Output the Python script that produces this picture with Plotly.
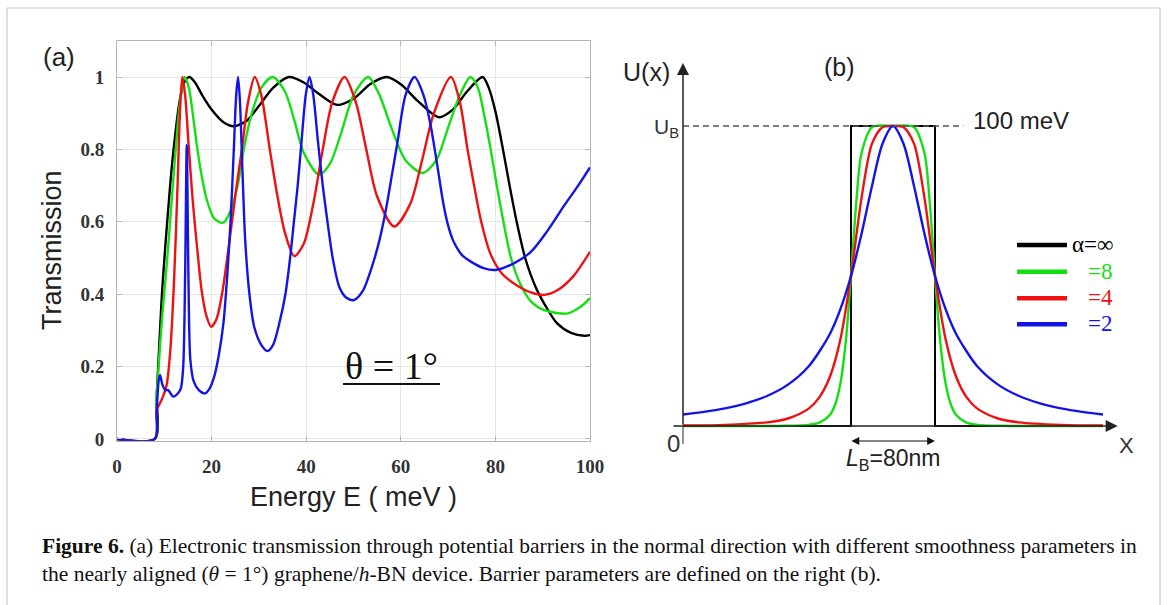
import plotly.graph_objects as go

W, H = 1167, 605
def X(p): return p / W
def Y(p): return 1 - p / H

# ---------------- Panel (a): Transmission vs Energy ----------------
E_inf = [0, 8.0, 8.4, 8.9, 9.5, 10.2, 10.8, 11.5, 12.3, 13.2, 14.2, 15.3, 16.5, 18, 20, 22.5, 24.8,
         27.5, 30, 33, 36.3, 39.5, 42.5, 46.5, 50, 53.5, 57.0, 60, 63.5, 68.0, 71, 74, 77.3, 78.6,
         80.0, 81.6, 83.0, 84.5, 86.3, 88.5, 90.5, 93, 96, 98.8, 100]
T_inf = [0, 0, 0.12, 0.25, 0.40, 0.53, 0.63, 0.74, 0.84, 0.93, 0.985, 1.0, 0.985, 0.95, 0.91, 0.875, 0.864,
         0.88, 0.92, 0.97, 1.0, 0.985, 0.955, 0.923, 0.94, 0.98, 1.0, 0.98, 0.935, 0.889, 0.91, 0.96, 1.0, 0.97,
         0.905, 0.80, 0.70, 0.60, 0.50, 0.42, 0.37, 0.32, 0.293, 0.285, 0.287]

E_8 = [0, 8.0, 8.3, 8.8, 9.5, 10.3, 11, 11.8, 12.6, 13.4, 14.3, 15.2, 16, 17, 18, 19, 20.5, 22.4, 24,
       25.5, 26.8, 28.5, 30.5, 32.9, 35.5, 37.5, 39.5, 42.7, 45, 47.5, 50, 53.1, 55.5, 58, 61, 64.6, 67.5,
       70, 72.5, 74.7, 76.3, 77.7, 79.0, 80.3, 81.7, 83.3, 85.2, 87.5, 90.5, 95.3, 98, 100]
T_8 = [0, 0, 0.10, 0.20, 0.33, 0.45, 0.56, 0.70, 0.83, 0.94, 1.0, 0.97, 0.90, 0.80, 0.72, 0.66, 0.61, 0.597, 0.63,
       0.70, 0.80, 0.90, 0.97, 1.0, 0.96, 0.88, 0.79, 0.73, 0.76, 0.85, 0.95, 1.0, 0.95, 0.86, 0.77, 0.735, 0.77,
       0.86, 0.95, 1.0, 0.97, 0.89, 0.80, 0.70, 0.60, 0.50, 0.43, 0.38, 0.355, 0.347, 0.365, 0.389]

E_4 = [0, 8.0, 8.4, 9.5, 10.5, 11.3, 12.1, 12.8, 13.3, 13.8, 14.4, 15.1, 16, 17, 17.9, 18.9, 19.9, 21,
       22.2, 23.3, 24.3, 25.3, 26.4, 27.7, 29.1, 30.5, 32.3, 33.8, 35.5, 37.5, 39.5, 41.5, 43.5, 45.5, 48.1,
       50.5, 52.7, 55, 58.6, 62, 64.5, 67, 70.6, 72.5, 74.1, 75.5, 77.0, 79.0, 81.5, 84.5, 87.5, 90.3, 93,
       96.5, 100]
T_4 = [0, 0, 0.08, 0.11, 0.15, 0.25, 0.45, 0.70, 0.90, 1.0, 0.95, 0.82, 0.66, 0.52, 0.41, 0.34, 0.31, 0.33,
       0.40, 0.50, 0.60, 0.70, 0.80, 0.93, 1.0, 0.95, 0.80, 0.68, 0.57, 0.505, 0.54, 0.65, 0.80, 0.93, 1.0,
       0.93, 0.80, 0.67, 0.587, 0.65, 0.77, 0.90, 1.0, 0.93, 0.80, 0.70, 0.60, 0.51, 0.455, 0.425, 0.405, 0.398,
       0.41, 0.45, 0.517]

E_2 = [0, 8.0, 8.4, 8.8, 9.1, 9.6, 10.2, 10.8, 11.9, 12.8, 13.5, 14.0, 14.4, 14.75, 15.1, 15.5, 16.2,
       17.3, 18.6, 19.6, 20.5, 21.5, 22.5, 23.3, 24, 24.7, 25.2, 25.6, 26.0, 26.5, 27.1, 28, 29, 30.5, 31.8,
       33, 34.5, 35.6, 36.6, 37.4, 38.2, 39, 39.9, 40.7, 41.5, 42.5, 43.5, 44.5, 45.6, 47, 48.5, 50.1, 52,
       54, 55.5, 56.8, 58, 59.3, 61, 62.9, 64.8, 66.3, 67.7, 69.0, 70.0, 71.0, 72.0, 73.0, 74.8, 77.5, 80.1,
       84, 87.5, 91, 94.6, 97.5, 100]
T_2 = [0, 0, 0.08, 0.16, 0.177, 0.15, 0.135, 0.135, 0.117, 0.125, 0.14, 0.20, 0.45, 0.812, 0.45, 0.22, 0.16,
       0.135, 0.126, 0.14, 0.17, 0.23, 0.32, 0.45, 0.60, 0.80, 0.95, 1.0, 0.93, 0.75, 0.55, 0.40, 0.31, 0.26, 0.243,
       0.26, 0.33, 0.40, 0.50, 0.60, 0.70, 0.82, 0.95, 1.0, 0.95, 0.82, 0.70, 0.60, 0.50, 0.42, 0.39, 0.384, 0.41,
       0.48, 0.55, 0.63, 0.72, 0.82, 0.95, 1.0, 0.95, 0.867, 0.757, 0.65, 0.59, 0.55, 0.525, 0.507, 0.49, 0.472,
       0.467, 0.486, 0.517, 0.575, 0.646, 0.70, 0.75]

x_ticks = [0, 20, 40, 60, 80, 100]
y_ticks = [0, 0.2, 0.4, 0.6, 0.8, 1]
y_ticktext = ["0", "0.2", "0.4", "0.6", "0.8", "1"]

# ---------------- Panel (b): barrier profiles U(x) ----------------
xb_inf = [0, 160, 160, 240, 240, 400]
Ub_inf = [0, 0, 100, 100, 0, 0]

xb_8 = [0, 100, 120, 130, 140, 145, 150, 155, 160, 165, 170, 180, 200,
        220, 230, 235, 240, 245, 250, 255, 260, 270, 280, 300, 400]
Ub_8 = [0, 0.07, 0.39, 1.12, 3.76, 7.26, 14.37, 28.04, 50, 74.42, 90.9, 99.61, 100,
        99.61, 90.9, 74.42, 50, 28.04, 14.37, 7.26, 3.76, 1.12, 0.39, 0.07, 0]

xb_4 = [0, 40, 80, 100, 120, 130, 140, 150, 160, 170, 180, 190, 200,
        210, 220, 230, 240, 250, 260, 270, 280, 300, 320, 360, 400]
Ub_4 = [0.16, 0.39, 1.22, 2.50, 5.88, 9.63, 16.49, 29.06, 50, 75.96, 94.12, 99.61, 100,
        99.61, 94.12, 75.96, 50, 29.06, 16.49, 9.63, 5.88, 2.50, 1.22, 0.39, 0.16]

xb_2 = [0, 20, 40, 60, 80, 100, 120, 140, 150, 160, 170, 180, 190, 200,
        210, 220, 230, 240, 250, 260, 280, 300, 320, 340, 360, 380, 400]
Ub_2 = [3.85, 4.71, 5.88, 7.55, 10.0, 13.79, 20.0, 30.77, 39.02, 50, 64.0, 80.0, 94.1, 100,
        94.1, 80.0, 64.0, 50, 39.02, 30.77, 20.0, 13.79, 10.0, 7.55, 5.88, 4.71, 3.85]

legend_labels = ["α=∞", "=8", "=4", "=2"]
colors = ["#000000", "#12e012", "#ee1111", "#1414e6"]

fig = go.Figure()

series_a = [(E_inf, T_inf), (E_8, T_8), (E_4, T_4), (E_2, T_2)]
for (xs, ys), c in zip(series_a, colors):
    fig.add_trace(go.Scatter(x=xs, y=ys, mode="lines", xaxis="x", yaxis="y",
                             line=dict(color=c, width=2.4, shape="spline", smoothing=0.8),
                             showlegend=False, hoverinfo="skip"))

series_b = [(xb_inf, Ub_inf), (xb_8, Ub_8), (xb_4, Ub_4), (xb_2, Ub_2)]
for i, ((xs, ys), c) in enumerate(zip(series_b, colors)):
    fig.add_trace(go.Scatter(x=xs, y=ys, mode="lines", xaxis="x2", yaxis="y2",
                             line=dict(color=c, width=2.0 if i == 0 else 2.4,
                                       shape="linear" if i == 0 else "spline", smoothing=0.8),
                             showlegend=False, hoverinfo="skip"))

serif = "Liberation Serif"
sans = "Liberation Sans"

fig.update_layout(
    width=W, height=H, margin=dict(l=0, r=0, t=0, b=0, autoexpand=False),
    paper_bgcolor="white", plot_bgcolor="white",
    xaxis=dict(domain=[X(117), X(590)], range=[0, 100], tickvals=x_ticks, automargin=False,
               showgrid=True, gridcolor="#e6e6e6", gridwidth=1,
               showline=True, linecolor="#b5b5b5", linewidth=1, mirror="ticks",
               ticks="inside", ticklen=5, tickcolor="#b5b5b5", zeroline=False,
               tickfont=dict(family=serif, size=19, color="#333333", weight="bold"),
               ticklabelstandoff=8),
    yaxis=dict(domain=[Y(440.8), Y(40.8)], range=[-0.005, 1.1], tickvals=y_ticks, ticktext=y_ticktext,
               automargin=False,
               showgrid=True, gridcolor="#e6e6e6", gridwidth=1,
               showline=True, linecolor="#b5b5b5", linewidth=1, mirror="ticks",
               ticks="inside", ticklen=5, tickcolor="#b5b5b5", zeroline=False,
               tickfont=dict(family=serif, size=19, color="#333333", weight="bold"),
               ticklabelstandoff=8),
    xaxis2=dict(domain=[X(672.5), X(1124)], range=[-10, 420], visible=False, automargin=False),
    yaxis2=dict(domain=[Y(456), Y(51)], range=[-10, 125], visible=False, automargin=False),
)

shapes = []
shapes.append(dict(type="line", xref="x2", yref="y2", x0=0, x1=267, y0=100, y1=100,
                   line=dict(color="#555555", width=1.6, dash="6px,4px")))
shapes.append(dict(type="line", xref="x2", yref="y2", x0=0, x1=0, y0=-6, y1=0,
                   line=dict(color="#666666", width=1.4)))
shapes.append(dict(type="line", xref="paper", yref="paper", x0=X(343), x1=X(440), y0=Y(384), y1=Y(384),
                   line=dict(color="#111111", width=2)))
for c, yy in zip(colors, [245, 271.7, 298.3, 324.3]):
    shapes.append(dict(type="line", xref="paper", yref="paper", x0=X(1017), x1=X(1067), y0=Y(yy), y1=Y(yy),
                       line=dict(color=c, width=4.5)))
shapes.append(dict(type="line", xref="paper", yref="paper", x0=X(7), x1=X(7), y0=Y(8), y1=Y(605),
                   line=dict(color="#c8c8c8", width=1.2)))
shapes.append(dict(type="line", xref="paper", yref="paper", x0=X(1160), x1=X(1160), y0=Y(8), y1=Y(605),
                   line=dict(color="#c8c8c8", width=1.2)))
shapes.append(dict(type="line", xref="paper", yref="paper", x0=X(7), x1=X(1160), y0=Y(8), y1=Y(8),
                   line=dict(color="#c8c8c8", width=1.2)))
fig.update_layout(shapes=shapes)

ann = []
def txt(t, px, py, size, family=sans, color="#222222", xanchor="center", yanchor="middle", angle=0):
    ann.append(dict(text=t, x=X(px), y=Y(py), xref="paper", yref="paper", showarrow=False,
                    font=dict(family=family, size=size, color=color), xanchor=xanchor,
                    yanchor=yanchor, textangle=angle))

txt("(a)", 59, 57, 26)
txt("Transmission", 52, 250, 27, angle=-90)
txt("Energy E ( meV )", 353, 497, 27)
txt("θ = 1°", 391, 366, 38, family=serif, color="#111111")

txt("U(x)", 646, 72, 25)
txt("(b)", 839, 67, 25)
txt("U<sub>B</sub>", 666, 128, 21, color="#333333")
txt("100 meV", 1021, 120, 24, color="#222222")
txt("0", 673, 443, 24, color="#333333")
txt("X", 1126, 445, 22, color="#333333")
txt("<i>L</i><sub>B</sub>=80nm", 893, 459, 23, color="#222222")
txt(legend_labels[0], 1070, 244, 23, family=serif, color=colors[0], xanchor="left")
for lab, c, yy in zip(legend_labels[1:], colors[1:], [271, 297.5, 323.5]):
    txt(lab, 1086, yy, 23, family=serif, color=c, xanchor="left")

ann.append(dict(x=414, y=0, ax=-10.5, ay=0, xref="x2", yref="y2", axref="x2", ayref="y2",
                showarrow=True, arrowhead=2, arrowsize=1.6, arrowwidth=1.5, arrowcolor="#222222", text=""))
ann.append(dict(x=0, y=121, ax=0, ay=0, xref="x2", yref="y2", axref="x2", ayref="y2",
                showarrow=True, arrowhead=2, arrowsize=1.6, arrowwidth=1.5, arrowcolor="#222222", text=""))
ann.append(dict(x=240, y=-5, ax=159, ay=-5, xref="x2", yref="y2", axref="x2", ayref="y2",
                showarrow=True, arrowhead=2, arrowside="end+start", arrowsize=1.3, arrowwidth=1.2,
                arrowcolor="#111111", text=""))

cap1 = ("<b>Figure 6.</b> (a) Electronic transmission through potential barriers in the normal direction "
        "with different smoothness parameters in")
cap2 = ("the nearly aligned (<i>θ</i> = 1°) graphene/<i>h</i>-BN device. Barrier parameters are defined "
        "on the right (b).")
txt(cap1, 40, 546, 21.5, family=serif, color="#111111", xanchor="left")
txt(cap2, 40, 574, 21.5, family=serif, color="#111111", xanchor="left")

fig.update_layout(annotations=ann)
fig.write_html("out.html", config={"displayModeBar": False},
               post_script="document.body.style.margin='0';")
